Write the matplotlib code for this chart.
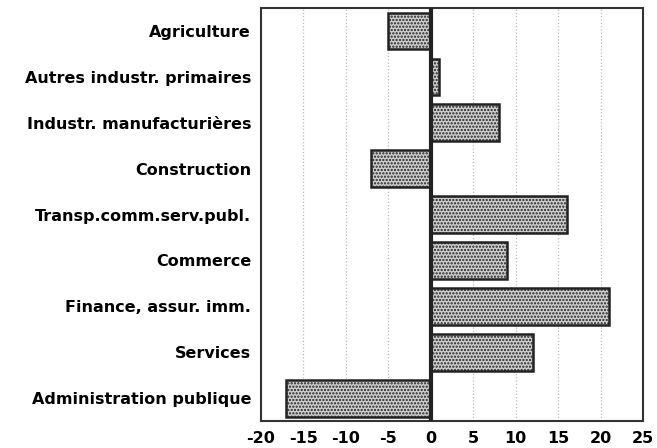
import matplotlib
matplotlib.use('Agg')
import matplotlib.pyplot as plt

plt.rcParams['hatch.color'] = '#3a3a3a'
plt.rcParams['hatch.linewidth'] = 1.1

secteurs = ['Agriculture', 'Autres industr. primaires', 'Industr. manufacturières',
            'Construction', 'Transp.comm.serv.publ.', 'Commerce',
            'Finance, assur. imm.', 'Services', 'Administration publique']
valeurs = [-5, 1, 8, -7, 16, 9, 21, 12, -17]
xticks = [-20, -15, -10, -5, 0, 5, 10, 15, 20, 25]

fig = plt.figure(figsize=(6.57, 4.48), dpi=100)
ax = fig.add_axes([0.397, 0.060, 0.582, 0.922])

pos = list(range(len(secteurs)))
ax.barh(pos, valeurs, height=0.8, color='#cfcfcf', edgecolor='#222222',
        linewidth=1.8, hatch='.....', zorder=3)

ax.axvline(0, color='#222222', linewidth=3, zorder=4)
ax.set_xlim(-20, 25)
ax.set_ylim(len(secteurs) - 0.5, -0.5)
ax.set_xticks(xticks)
ax.set_xticklabels([str(t) for t in xticks])
ax.set_yticks(pos)
ax.set_yticklabels(secteurs)
ax.grid(axis='x', color='#bbbbbb', linestyle=':', linewidth=0.9, zorder=0)
ax.tick_params(length=0, labelsize=11.5, pad=7)
for lab in ax.get_xticklabels() + ax.get_yticklabels():
    lab.set_fontweight('bold')
for s in ax.spines.values():
    s.set_linewidth(1.5)
    s.set_color('#333333')

fig.savefig('out.png', dpi=100)
